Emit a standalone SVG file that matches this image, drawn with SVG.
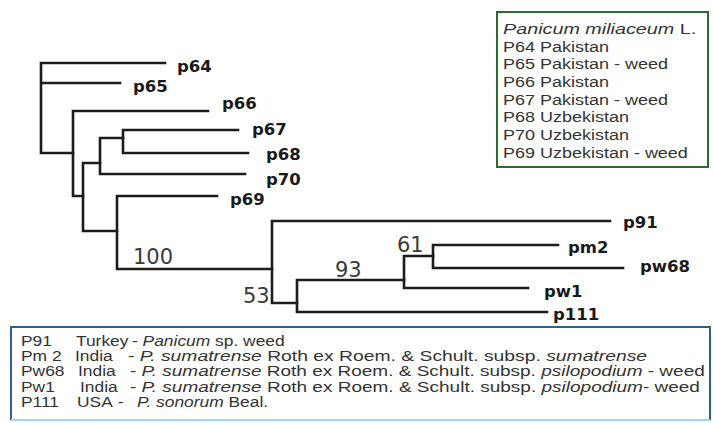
<svg xmlns="http://www.w3.org/2000/svg" width="713" height="423" viewBox="0 0 713 423">
<style>
.br{fill:none;stroke:#1c1c1c;stroke-width:2.6;stroke-linecap:square;stroke-linejoin:miter}
.lb{font-family:"DejaVu Sans",Verdana,sans-serif;font-weight:bold;font-size:16.5px;fill:#1a1a1a}
.bs{font-family:"DejaVu Sans",Verdana,sans-serif;font-size:21px;fill:#3a3a3a}
.lg{font-family:"Liberation Sans",Arial,sans-serif;font-size:15px;fill:#333}
.bt{font-family:"Liberation Sans",Arial,sans-serif;font-size:14.5px;fill:#333}
.it{font-style:italic}
</style>
<rect width="713" height="423" fill="#fff"/>
<g id="connectors">
<path class="br" d="M41,63V153M41,63H165M41,83H120M41,153H73"/>
<path class="br" d="M73,111V196M73,111H208M73,196H83"/>
<path class="br" d="M83,163V231M83,163H100M83,231H117"/>
<path class="br" d="M100,138V174M100,138H123M100,174H245"/>
<path class="br" d="M123,130V153M123,130H238M123,153H248"/>
<path class="br" d="M117,196V269M117,196H217M117,269H272"/>
<path class="br" d="M272,221V303M272,221H610M272,303H297"/>
<path class="br" d="M297,280V312M297,312H547M297,280H404"/>
<path class="br" d="M404,256V288M404,288H528M404,256H433"/>
<path class="br" d="M433,245V268M433,245H558M433,268H623"/>
</g>
<g id="node-p64"><text class="lb" x="177" y="72">p64</text></g>
<g id="node-p65"><text class="lb" x="133" y="92">p65</text></g>
<g id="node-p66"><text class="lb" x="222" y="109">p66</text></g>
<g id="node-p67"><text class="lb" x="252" y="135">p67</text></g>
<g id="node-p68"><text class="lb" x="266" y="160">p68</text></g>
<g id="node-p70"><text class="lb" x="266" y="185">p70</text></g>
<g id="node-p69"><text class="lb" x="230" y="205">p69</text></g>
<g id="node-p91"><text class="lb" x="623" y="228">p91</text></g>
<g id="node-pm2"><text class="lb" x="568" y="253">pm2</text></g>
<g id="node-pw68"><text class="lb" x="640" y="272">pw68</text></g>
<g id="node-pw1"><text class="lb" x="544" y="297">pw1</text></g>
<g id="node-p111"><text class="lb" x="553" y="320">p111</text></g>
<g id="bootstrap">
<text class="bs" x="133" y="264">100</text>
<text class="bs" x="397" y="252">61</text>
<text class="bs" x="335" y="277">93</text>
<text class="bs" x="243" y="303">53</text>
</g>
<g id="legend-top">
<rect x="497" y="12" width="211" height="155" fill="#fff" stroke="#2f6b2f" stroke-width="2"/>
<g transform="translate(503,0) scale(1.2,1)">
<text class="lg" x="0" y="34" textLength="161" lengthAdjust="spacingAndGlyphs"><tspan class="it">Panicum miliaceum</tspan> L.</text>
<text class="lg" x="0" y="52">P64 Pakistan</text>
<text class="lg" x="0" y="69">P65 Pakistan - weed</text>
<text class="lg" x="0" y="87">P66 Pakistan</text>
<text class="lg" x="0" y="105">P67 Pakistan - weed</text>
<text class="lg" x="0" y="122">P68 Uzbekistan</text>
<text class="lg" x="0" y="140">P70 Uzbekistan</text>
<text class="lg" x="0" y="158">P69 Uzbekistan - weed</text>
</g>
</g>
<g id="legend-bottom">
<rect x="11" y="327" width="699" height="93" fill="#fff" stroke="none"/>
<path d="M11,420V327H710V420" fill="none" stroke="#2f5f90" stroke-width="2"/>
<path d="M11,420H710" fill="none" stroke="#9fd3ee" stroke-width="2"/>
<g transform="scale(1.2,1)">
<text class="bt" x="17.5" y="346">P91</text>
<text class="bt" x="63.3" y="346">Turkey</text>
<text class="bt" x="110" y="346">- <tspan class="it">Panicum</tspan> sp. weed</text>
<text class="bt" x="17.5" y="361">Pm 2</text>
<text class="bt" x="62.5" y="361">India</text>
<text class="bt" x="106.7" y="361" textLength="432.5" lengthAdjust="spacingAndGlyphs">- <tspan class="it">P. sumatrense</tspan> Roth ex Roem. &amp; Schult. subsp. <tspan class="it">sumatrense</tspan></text>
<text class="bt" x="17.5" y="376">Pw68</text>
<text class="bt" x="65" y="376">India</text>
<text class="bt" x="108.3" y="376" textLength="479" lengthAdjust="spacingAndGlyphs">- <tspan class="it">P. sumatrense</tspan> Roth ex Roem. &amp; Schult. subsp. <tspan class="it">psilopodium</tspan> - weed</text>
<text class="bt" x="17.5" y="392">Pw1</text>
<text class="bt" x="66.7" y="392">India</text>
<text class="bt" x="108.3" y="392" textLength="475" lengthAdjust="spacingAndGlyphs">- <tspan class="it">P. sumatrense</tspan> Roth ex Roem. &amp; Schult. subsp. <tspan class="it">psilopodium</tspan>- weed</text>
<text class="bt" x="17.5" y="407">P111</text>
<text class="bt" x="64.2" y="407">USA</text>
<text class="bt" x="98.3" y="407">-</text>
<text class="bt" x="114.2" y="407"><tspan class="it">P. sonorum</tspan> Beal.</text>
</g>
</g>
</svg>
